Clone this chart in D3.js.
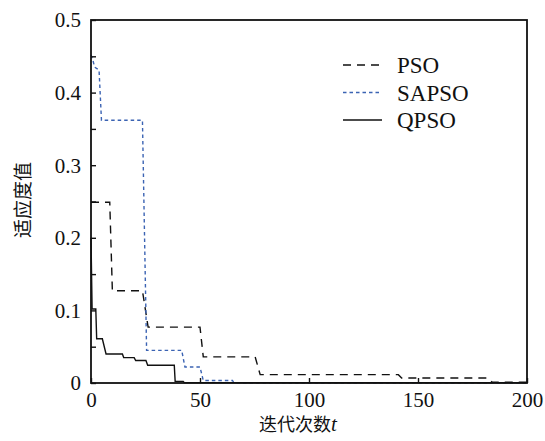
<!DOCTYPE html>
<html>
<head>
<meta charset="utf-8">
<script src="https://cdn.jsdelivr.net/npm/d3@7"></script>
<style>
  body { margin: 0; background: #fff; }
  svg { display: block; }
</style>
</head>
<body>
<div id="viz"></div>
<script>
// iteration t, fitness value
const psoData = [
  [0, 0.249], [8.6, 0.249], [9.8, 0.127], [23.6, 0.127], [26.2, 0.077],
  [50, 0.077], [51.5, 0.036], [75.3, 0.036], [77.6, 0.0115], [141, 0.0115],
  [142.5, 0.0068], [182, 0.0068], [184, 0.0012], [200, 0.0012]
];
const sapsoData = [
  [0, 0.452], [0.9, 0.444], [1.7, 0.435], [3.7, 0.431], [4.8, 0.362],
  [23.6, 0.362], [25.5, 0.045], [41.6, 0.045], [43.1, 0.022], [50, 0.022],
  [51.5, 0.0035], [64.9, 0.0035], [65.5, 0.0004], [200, 0.0004]
];
const qpsoData = [
  [0, 0.2], [0.5, 0.102], [2.2, 0.102], [2.6, 0.061], [5.2, 0.061],
  [6.9, 0.040], [14.4, 0.040], [15, 0.035], [19.8, 0.035], [20.5, 0.031],
  [25.2, 0.031], [26, 0.0245], [38.2, 0.0245], [38.6, 0.0023], [42.3, 0.0023],
  [42.8, 0.0005], [200, 0.0005]
];
const seriesNames = ['PSO', 'SAPSO', 'QPSO'];
const xTicks = [0, 50, 100, 150, 200];
const yTicks = [0, 0.05, 0.1, 0.15, 0.2, 0.25, 0.3, 0.35, 0.4, 0.45, 0.5];
const yLabelTicks = [0, 0.1, 0.2, 0.3, 0.4, 0.5];

const width = 545, height = 441;
const margin = { top: 20, right: 18, bottom: 58, left: 91 };
const serif = "'Liberation Serif', 'DejaVu Serif', serif";

const svg = d3.select('#viz').append('svg')
  .attr('width', width)
  .attr('height', height);

const xScale = d3.scaleLinear().domain([0, 200]).range([margin.left, width - margin.right]);
const yScale = d3.scaleLinear().domain([0, 0.5]).range([height - margin.bottom, margin.top]);

const styles = {
  PSO: { color: '#111', dash: '8,6', data: psoData },
  SAPSO: { color: '#3b63b3', dash: '3.5,3', data: sapsoData },
  QPSO: { color: '#111', dash: null, data: qpsoData }
};

const line = d3.line()
  .x(d => xScale(d[0]))
  .y(d => yScale(d[1]));

// series
seriesNames.forEach(name => {
  const s = styles[name];
  svg.append('path')
    .datum(s.data)
    .attr('d', line)
    .attr('fill', 'none')
    .attr('stroke', s.color)
    .attr('stroke-width', 1.4)
    .attr('stroke-dasharray', s.dash);
});

// frame
svg.append('rect')
  .attr('x', xScale(0))
  .attr('y', yScale(0.5))
  .attr('width', xScale(200) - xScale(0))
  .attr('height', yScale(0) - yScale(0.5))
  .attr('fill', 'none')
  .attr('stroke', '#111')
  .attr('stroke-width', 1.8);

// x axis, ticks pointing inward
const xAxis = svg.append('g')
  .attr('transform', `translate(0, ${yScale(0)})`)
  .call(d3.axisBottom(xScale).tickValues(xTicks).tickSizeInner(-5).tickSizeOuter(0).tickFormat(d3.format('d')));
xAxis.select('.domain').remove();
xAxis.attr('font-family', null).attr('font-size', null);
xAxis.selectAll('line').attr('stroke', '#111').attr('stroke-width', 1.4);
xAxis.selectAll('text')
  .attr('y', 9)
  .attr('dy', '0.71em')
  .attr('fill', '#111')
  .style('font-family', serif)
  .style('font-size', '21px');

// y axis, ticks pointing inward
const yAxis = svg.append('g')
  .attr('transform', `translate(${xScale(0)}, 0)`)
  .call(d3.axisLeft(yScale).tickValues(yTicks).tickSizeInner(-5).tickSizeOuter(0)
    .tickFormat(d => yLabelTicks.some(v => Math.abs(v - d) < 1e-9) ? d3.format('~g')(d) : ''));
yAxis.select('.domain').remove();
yAxis.attr('font-family', null).attr('font-size', null);
yAxis.selectAll('line').attr('stroke', '#111').attr('stroke-width', 1.4);
yAxis.selectAll('text')
  .attr('x', -10)
  .attr('dy', '0.33em')
  .attr('fill', '#111')
  .style('font-family', serif)
  .style('font-size', '21px');

// axis titles
const xTitle = svg.append('text')
  .attr('x', 298)
  .attr('y', 431)
  .attr('text-anchor', 'middle')
  .style('font-family', "'Noto Sans CJK SC', sans-serif")
  .style('font-size', '18px')
  .attr('fill', '#111')
  .text('迭代次数');
xTitle.append('tspan')
  .style('font-family', serif)
  .style('font-style', 'italic')
  .style('font-size', '21px')
  .text('t');

svg.append('text')
  .attr('transform', 'translate(30, 200) rotate(-90)')
  .attr('text-anchor', 'middle')
  .style('font-family', "'Noto Sans CJK SC', sans-serif")
  .style('font-size', '19px')
  .attr('fill', '#111')
  .text('适应度值');

// legend
const legend = svg.append('g')
  .attr('class', 'legend')
  .attr('transform', 'translate(343, 65)');

const legendItem = legend.selectAll('.legend-item')
  .data(seriesNames)
  .enter().append('g')
  .attr('class', 'legend-item')
  .attr('transform', (d, i) => `translate(0, ${i * 27.5})`);

legendItem.append('line')
  .attr('x1', 0)
  .attr('x2', 39)
  .attr('y1', 0)
  .attr('y2', 0)
  .attr('stroke', d => styles[d].color)
  .attr('stroke-width', 1.4)
  .attr('stroke-dasharray', d => styles[d].dash);

legendItem.append('text')
  .attr('x', 54)
  .attr('y', 0)
  .attr('dy', '0.35em')
  .style('font-family', serif)
  .style('font-size', '23px')
  .attr('fill', '#111')
  .text(d => d);
</script>
</body>
</html>
